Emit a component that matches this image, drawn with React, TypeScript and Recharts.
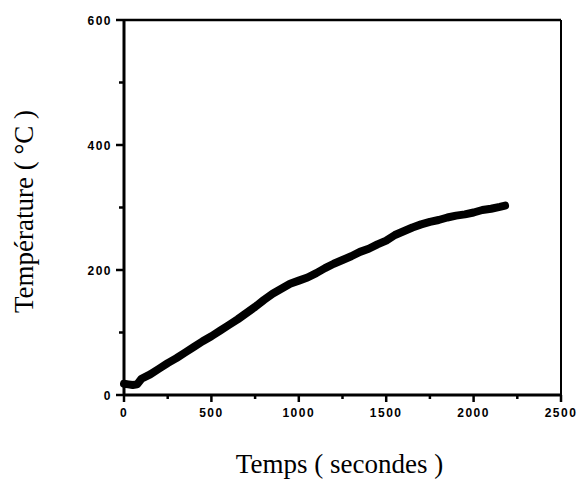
import React from 'react';
import { LineChart, Line, XAxis, YAxis, ReferenceLine } from 'recharts';

const times = [0, 25, 50, 75, 100, 150, 200, 250, 300, 350, 400, 450, 500, 550, 600, 650, 700, 750, 800, 850, 900, 950, 1000, 1050, 1100, 1150, 1200, 1250, 1300, 1350, 1400, 1450, 1500, 1550, 1600, 1650, 1700, 1750, 1800, 1850, 1900, 1950, 2000, 2050, 2100, 2150, 2180];
const temps = [18, 17, 16, 17, 26, 33, 42, 51, 59, 68, 77, 86, 94, 103, 112, 121, 131, 141, 152, 162, 170, 178, 183, 188, 195, 203, 210, 216, 222, 229, 234, 241, 247, 256, 262, 268, 273, 277, 280, 284, 287, 289, 292, 296, 298, 301, 303];
const xTicks = [0, 250, 500, 750, 1000, 1250, 1500, 1750, 2000, 2250, 2500];
const yTicks = [0, 100, 200, 300, 400, 500, 600];
const xLabel = 'Temps ( secondes )';
const yLabel = 'Température ( °C )';

const data = times.map((t, i) => ({ t, v: temps[i] }));

const tickFont = { fontFamily: '"Liberation Sans", Arial, sans-serif', fontWeight: 700, fontSize: 12, letterSpacing: 1.5, fill: '#000' } as const;
const labelFont = { fontFamily: '"Liberation Serif", "Times New Roman", serif', fontSize: 27, fill: '#000' } as const;

const XTick = (props: any) => {
  const { x, y, payload } = props;
  const major = payload.value % 500 === 0;
  return (
    <g>
      <line x1={x} y1={y} x2={x} y2={y + (major ? 7 : 4)} stroke="#000" strokeWidth={2.5} />
      {major && (
        <text x={x} y={y + 22} textAnchor="middle" {...tickFont}>{payload.value}</text>
      )}
    </g>
  );
};

const YTick = (props: any) => {
  const { x, y, payload } = props;
  const major = payload.value % 200 === 0;
  return (
    <g>
      <line x1={x} y1={y} x2={x - (major ? 8 : 5)} y2={y} stroke="#000" strokeWidth={2.5} />
      {major && (
        <text x={x - 12} y={y + 4.5} textAnchor="end" {...tickFont}>{payload.value}</text>
      )}
    </g>
  );
};

const XLabel = (props: any) => {
  const { x, y, width } = props.viewBox;
  return (
    <text x={x + width / 2 - 3} y={y + 78} textAnchor="middle" {...labelFont}>{xLabel}</text>
  );
};

const YLabel = (props: any) => {
  const { x, y, height } = props.viewBox;
  const cx = x - 31;
  const cy = y + height / 2 + 4;
  return (
    <text x={cx} y={cy} textAnchor="middle" transform={`rotate(-90, ${cx}, ${cy})`} {...labelFont}>{yLabel}</text>
  );
};

export default function App() {
  return (
    <div style={{ position: 'absolute', left: 0, top: 0, background: '#fff' }}>
      <LineChart width={579} height={481} data={data} margin={{ top: 20, right: 18, left: 64, bottom: 56 }}>
        <XAxis
          type="number"
          dataKey="t"
          domain={[0, 2500]}
          ticks={xTicks}
          interval={0}
          tickSize={0}
          tickMargin={0}
          tickLine={false}
          axisLine={{ stroke: '#000', strokeWidth: 3 }}
          tick={<XTick />}
          height={30}
          label={<XLabel />}
        />
        <YAxis
          type="number"
          domain={[0, 600]}
          ticks={yTicks}
          interval={0}
          tickSize={0}
          tickMargin={0}
          tickLine={false}
          axisLine={{ stroke: '#000', strokeWidth: 3 }}
          tick={<YTick />}
          width={60}
          label={<YLabel />}
        />
        <ReferenceLine y={600} stroke="#000" strokeWidth={2.5} />
        <ReferenceLine x={2500} stroke="#000" strokeWidth={2} />
        <Line
          type="linear"
          dataKey="v"
          stroke="#000"
          strokeWidth={8}
          strokeLinecap="round"
          strokeLinejoin="round"
          dot={false}
          isAnimationActive={false}
        />
      </LineChart>
    </div>
  );
}
